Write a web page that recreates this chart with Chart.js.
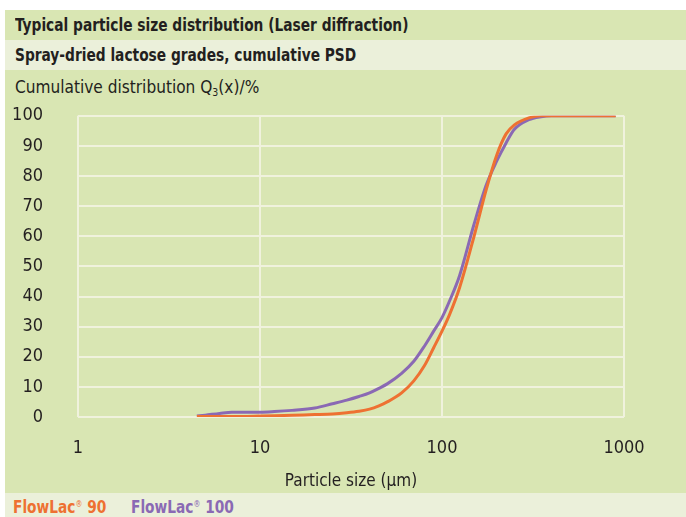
<!DOCTYPE html>
<html>
<head>
<meta charset="utf-8">
<script src="https://cdn.jsdelivr.net/npm/chart.js@4.4.0/dist/chart.umd.min.js"></script>
<style>
  body {
    margin: 0;
    width: 686px;
    height: 517px;
    background: #fff;
    position: relative;
    overflow: hidden;
    font-family: "Liberation Sans Narrow", "DejaVu Sans Condensed", sans-serif;
    color: #231f20;
  }
  .band { position: absolute; left: 5px; width: 681px; }
  .dark { background: #d9e6b3; }
  .light { background: #ebf0da; }
  .txt {
    position: absolute;
    left: 10px;
    white-space: nowrap;
    transform-origin: left center;
  }
  .bold { font-weight: bold; font-size: 18px; transform: scaleX(0.85); }
  #chartBox { position: absolute; left: 5px; top: 70px; }
  sub { font-size: 11px; vertical-align: -3px; }
  sup { font-size: 9px; vertical-align: 6px; font-weight: normal; }
</style>
</head>
<body>
  <div class="band dark" style="top:10px;height:30px;">
    <div class="txt bold" style="top:4px;">Typical particle size distribution (Laser diffraction)</div>
  </div>
  <div class="band light" style="top:40px;height:30px;">
    <div class="txt bold" style="top:4px;">Spray-dried lactose grades, cumulative PSD</div>
  </div>
  <div class="band dark" style="top:70px;height:423px;">
    <div class="txt" style="top:6px;font-size:18px;transform:scaleX(0.95);">Cumulative distribution Q<sub>3</sub>(x)/%</div>
  </div>
  <div class="band light" style="top:493px;height:24px;">
    <div class="txt bold" style="top:3px;left:8px;color:#ee7132;">FlowLac<sup>®</sup> 90</div>
    <div class="txt bold" style="top:3px;left:126px;color:#8a69b4;">FlowLac<sup>®</sup> 100</div>
  </div>
  <div id="chartBox"><canvas id="psdChart" width="681" height="423"></canvas></div>

<script>
// particle sizes in µm (log axis)
const sizes = [4.5, 5, 6, 7, 8, 10, 12, 15, 20, 25, 30, 35, 40, 45, 50, 60, 70, 80, 90, 100,
  110, 125, 150, 175, 200, 225, 250, 300, 350, 400, 500, 700, 900];

// cumulative Q3(x) in %
const flowLac90 = [0.2, 0.2, 0.2, 0.2, 0.2, 0.3, 0.4, 0.6, 0.8, 1.0, 1.4, 1.9, 2.6, 3.7, 5, 8, 12, 17, 23, 28.5,
  34, 43, 60, 75.5, 87, 94, 97, 99.3, 100, 100, 100, 100, 100];
const flowLac100 = [0.3, 0.6, 1.2, 1.6, 1.6, 1.6, 1.8, 2.2, 3.0, 4.4, 5.6, 6.8, 8.0, 9.5, 11, 14.5, 18.5, 23.5, 28.5, 33,
  38.5, 47, 64, 77, 85, 91, 95.5, 98.7, 99.7, 100, 100, 100, 100];

const xTicks = [1, 10, 100, 1000];
const yMin = 0, yMax = 100, yStep = 10;

const orange = "#ee7132";
const purple = "#8a69b4";
const gridColor = "#f0f2dd";
const textColor = "#231f20";
const fontFamily = '"Liberation Sans Narrow", "DejaVu Sans Condensed", sans-serif';

function points(values) {
  return sizes.map((s, i) => ({ x: s, y: values[i] }));
}

const ctx = document.getElementById("psdChart").getContext("2d");

new Chart(ctx, {
  type: "line",
  data: {
    datasets: [
      {
        label: "FlowLac 90",
        data: points(flowLac90),
        borderColor: orange,
        borderWidth: 3,
        pointRadius: 0,
        cubicInterpolationMode: "monotone",
        fill: false,
      },
      {
        label: "FlowLac 100",
        data: points(flowLac100),
        borderColor: purple,
        borderWidth: 3,
        pointRadius: 0,
        cubicInterpolationMode: "monotone",
        fill: false,
      },
    ],
  },
  options: {
    responsive: false,
    animation: false,
    layout: { padding: { top: 45, right: 62, left: 0, bottom: 0 } },
    plugins: {
      legend: { display: false },
      tooltip: { enabled: false },
    },
    scales: {
      x: {
        type: "logarithmic",
        min: 1,
        max: 1000,
        afterBuildTicks: (scale) => {
          scale.ticks = xTicks.map((v) => ({ value: v }));
        },
        afterFit: (scale) => {
          scale.height = 76;
        },
        grid: { color: gridColor, lineWidth: 2, drawTicks: false },
        border: { display: false },
        ticks: {
          padding: 21,
          color: textColor,
          font: { family: fontFamily, size: 18 },
          maxRotation: 0,
          autoSkip: false,
          callback: (v) => String(v),
        },
        title: {
          display: true,
          text: "Particle size (µm)",
          color: textColor,
          font: { family: fontFamily, size: 17 },
          padding: { top: 0, bottom: 1 },
        },
      },
      y: {
        min: yMin,
        max: yMax,
        afterFit: (scale) => {
          scale.width = 73;
        },
        grid: { color: gridColor, lineWidth: 2, drawTicks: false },
        border: { display: false },
        ticks: {
          stepSize: yStep,
          padding: 35,
          color: textColor,
          font: { family: fontFamily, size: 18 },
        },
      },
    },
  },
});
</script>
</body>
</html>
